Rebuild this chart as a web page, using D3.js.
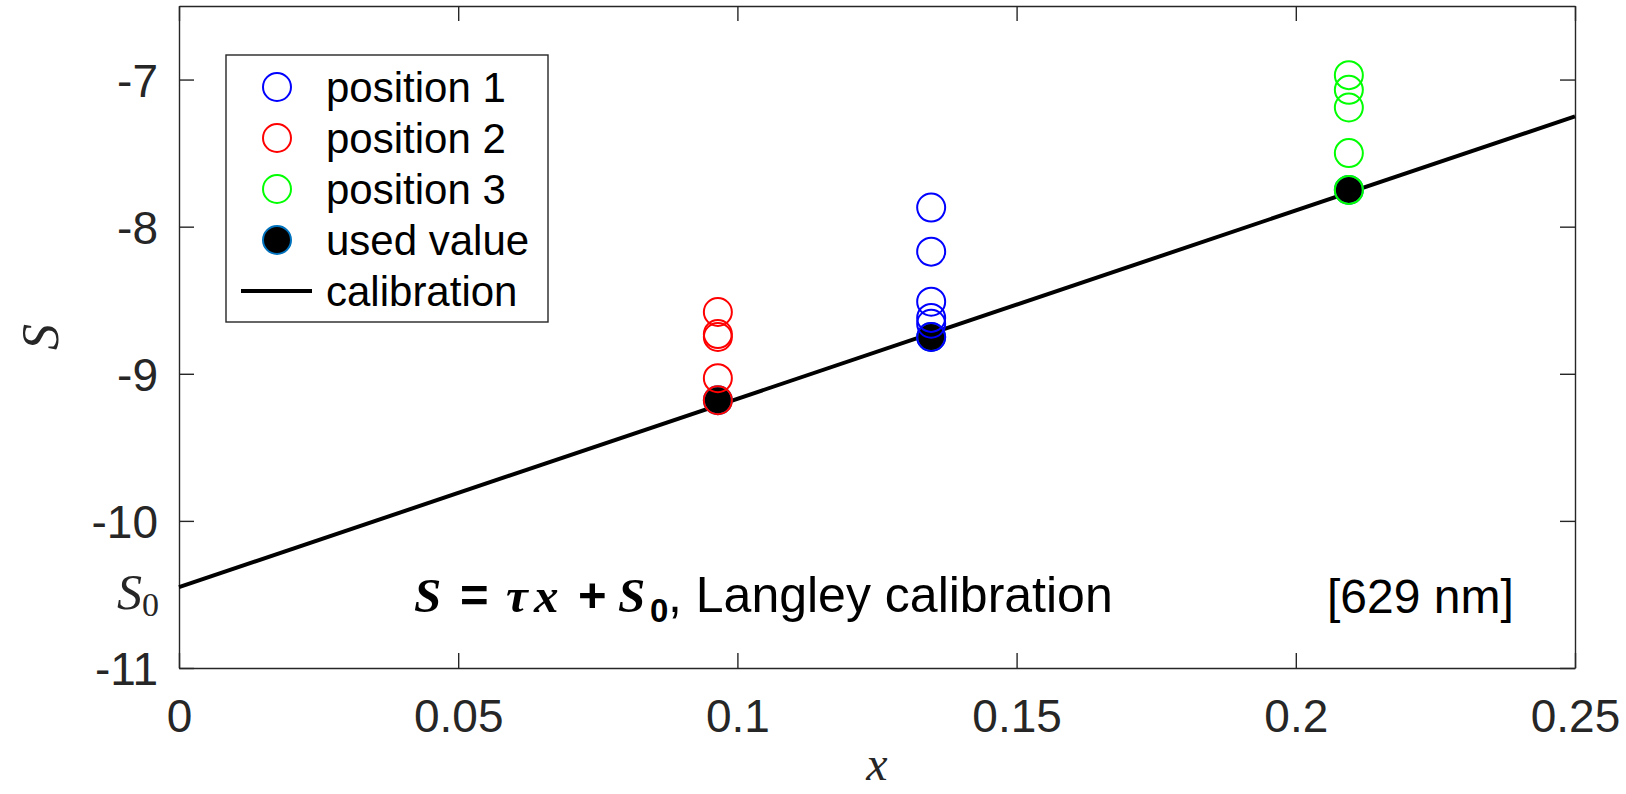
<!DOCTYPE html>
<html>
<head>
<meta charset="utf-8">
<script src="https://cdn.jsdelivr.net/npm/d3@7"></script>
<style>
  body { margin: 0; background: #fff; }
  svg { display: block; }
  .axis path, .axis line { stroke: #262626; stroke-width: 1.4; }
  .axis text { fill: #262626; font-family: "Liberation Sans", Arial, sans-serif; font-size: 46px; }
</style>
</head>
<body>
<div id="chart"></div>
<script>
// data
const posX = [0.1347, 0.0965, 0.2095];           // x of position 1, 2, 3
const pos1 = [-7.87, -8.17, -8.51, -8.62, -8.66, -8.75];
const pos2 = [-8.58, -8.73, -8.75, -9.03, -9.18];
const pos3 = [-6.97, -7.07, -7.19, -7.50, -7.75];
const usedX = [0.0965, 0.1347, 0.2095];
const usedS = [-9.18, -8.75, -7.75];
const calibX = [0, 0.25];
const calibS = [-10.45, -7.25];
const xTicks = [0, 0.05, 0.1, 0.15, 0.2, 0.25];
const yTicks = [-11, -10, -9, -8, -7];
const posColors = ['#0000ff', '#ff0000', '#00ff00'];
const legendLabels = ['position 1', 'position 2', 'position 3', 'used value', 'calibration'];

const W = 1626, H = 794;
const margin = { left: 179, top: 6, right: 51, bottom: 126 };
const w = W - margin.left - margin.right;
const h = H - margin.top - margin.bottom;

const serif = '"Liberation Serif", "Times New Roman", serif';
const sans = '"Liberation Sans", Arial, sans-serif';

const svg = d3.select('#chart').append('svg')
    .attr('width', W)
    .attr('height', H);

const g = svg.append('g')
    .attr('transform', `translate(${margin.left},${margin.top})`);

const x = d3.scaleLinear().domain([0, 0.25]).range([0, w]);
const y = d3.scaleLinear().domain([-11, -6.5]).range([h, 0]);

// axes box, ticks pointing inward
g.append('g').attr('class', 'axis')
    .attr('transform', `translate(0,${h})`)
    .call(d3.axisBottom(x).tickValues(xTicks).tickSize(-15).tickSizeOuter(0).tickFormat(d => String(d)))
    .call(a => a.selectAll('text').attr('y', 64).attr('dy', null));
g.append('g').attr('class', 'axis')
    .call(d3.axisTop(x).tickValues(xTicks).tickSize(-15).tickSizeOuter(0).tickFormat(''));
g.append('g').attr('class', 'axis')
    .call(d3.axisLeft(y).tickValues(yTicks).tickSize(-15).tickSizeOuter(0).tickFormat(d => String(d)))
    .call(a => a.selectAll('text').attr('x', -21).attr('dy', '0.36em'));
g.append('g').attr('class', 'axis')
    .attr('transform', `translate(${w},0)`)
    .call(d3.axisRight(y).tickValues(yTicks).tickSize(-15).tickSizeOuter(0).tickFormat(''));

// S0 label on the y axis
const s0 = g.append('text')
    .attr('x', -20).attr('y', y(calibS[0]) + 22)
    .attr('text-anchor', 'end')
    .attr('font-family', serif)
    .attr('font-size', 50)
    .attr('fill', '#262626');
s0.append('tspan').attr('font-style', 'italic').text('S');
s0.append('tspan').attr('font-size', 34).attr('dy', 7).text('0');

// calibration line
const line = d3.line().x(d => x(d[0])).y(d => y(d[1]));
g.append('path')
    .datum(d3.zip(calibX, calibS))
    .attr('d', line)
    .attr('fill', 'none')
    .attr('stroke', '#000')
    .attr('stroke-width', 4);

// used values
g.selectAll('.used')
    .data(d3.zip(usedX, usedS))
    .enter().append('circle')
    .attr('class', 'used')
    .attr('cx', d => x(d[0]))
    .attr('cy', d => y(d[1]))
    .attr('r', 14)
    .attr('fill', '#000')
    .attr('stroke', '#0072bd')
    .attr('stroke-width', 2);

// measurements per position
[pos1, pos2, pos3].forEach((vals, i) => {
    g.selectAll('.p' + i)
        .data(vals)
        .enter().append('circle')
        .attr('class', 'p' + i)
        .attr('cx', x(posX[i]))
        .attr('cy', d => y(d))
        .attr('r', 14)
        .attr('fill', 'none')
        .attr('stroke', posColors[i])
        .attr('stroke-width', 2);
});

// legend
const lg = svg.append('g').attr('transform', 'translate(226,55)');
lg.append('rect')
    .attr('width', 322).attr('height', 267)
    .attr('fill', '#fff')
    .attr('stroke', '#262626')
    .attr('stroke-width', 1.4);
legendLabels.forEach((lab, i) => {
    const cy = 32 + i * 51;
    if (i < 3) {
        lg.append('circle').attr('cx', 51).attr('cy', cy).attr('r', 14)
            .attr('fill', 'none').attr('stroke', posColors[i]).attr('stroke-width', 2);
    } else if (i === 3) {
        lg.append('circle').attr('cx', 51).attr('cy', cy).attr('r', 14)
            .attr('fill', '#000').attr('stroke', '#0072bd').attr('stroke-width', 2);
    } else {
        lg.append('line').attr('x1', 15).attr('x2', 86).attr('y1', cy).attr('y2', cy)
            .attr('stroke', '#000').attr('stroke-width', 4);
    }
    lg.append('text')
        .attr('x', 100).attr('y', cy + 15)
        .attr('font-family', sans)
        .attr('font-size', 42)
        .attr('fill', '#000')
        .text(lab);
});

// annotation
const ann = svg.append('text')
    .attr('y', 612)
    .attr('font-size', 49)
    .attr('fill', '#000');
ann.append('tspan').attr('x', 414).attr('font-family', serif).attr('font-style', 'italic').attr('font-weight', 'bold').text('S');
ann.append('tspan').attr('x', 460).attr('font-family', sans).attr('font-weight', 'bold').text('=');
ann.append('tspan').attr('x', 506).attr('font-family', serif).attr('font-style', 'italic').attr('font-weight', 'bold').text('τ');
ann.append('tspan').attr('x', 534).attr('font-family', serif).attr('font-style', 'italic').attr('font-weight', 'bold').text('x');
ann.append('tspan').attr('x', 578).attr('font-family', sans).attr('font-weight', 'bold').text('+');
ann.append('tspan').attr('x', 618).attr('font-family', serif).attr('font-style', 'italic').attr('font-weight', 'bold').text('S');
ann.append('tspan').attr('x', 650).attr('font-family', sans).attr('font-weight', 'bold').attr('font-size', 33).attr('dy', 10).text('0');
ann.append('tspan').attr('x', 668).attr('font-family', sans).attr('font-size', 50).attr('dy', -10).text(', Langley calibration');

svg.append('text')
    .attr('x', 1327).attr('y', 613)
    .attr('font-family', sans)
    .attr('font-size', 48)
    .attr('fill', '#000')
    .text('[629 nm]');

// axis labels
svg.append('text')
    .attr('x', margin.left + w / 2).attr('y', 780)
    .attr('text-anchor', 'middle')
    .attr('font-family', serif).attr('font-style', 'italic')
    .attr('font-size', 48).attr('fill', '#262626')
    .text('x');
svg.append('text')
    .attr('transform', `translate(58,${margin.top + h / 2}) rotate(-90)`)
    .attr('text-anchor', 'middle')
    .attr('font-family', serif).attr('font-style', 'italic')
    .attr('font-size', 52).attr('fill', '#262626')
    .text('S');
</script>
</body>
</html>
